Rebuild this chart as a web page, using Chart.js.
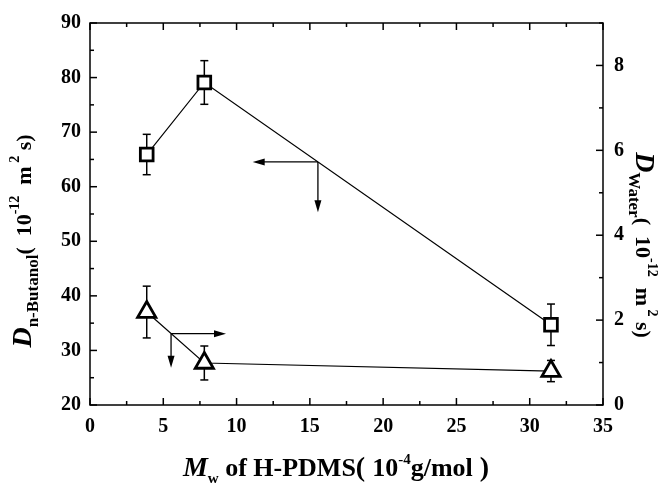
<!DOCTYPE html>
<html>
<head>
<meta charset="utf-8">
<script src="https://cdn.jsdelivr.net/npm/chart.js@4.4.1/dist/chart.umd.min.js"></script>
<style>
    html, body { margin: 0; padding: 0; background: #fff; }
    #wrap { width: 665px; height: 491px; position: relative; }
</style>
</head>
<body>
<div id="wrap"><canvas id="chart"></canvas></div>
<script>
// Datos
const mwValues = [3.87, 7.8, 31.45];
const butanolD = [65.9, 79.1, 34.7];
const butanolErr = [3.7, 4.0, 3.8];
const waterD = [2.19, 0.99, 0.80];
const waterErr = [0.61, 0.40, 0.25];

// Etiquetas de los ejes
const xTickLabels = [0, 5, 10, 15, 20, 25, 30, 35];
const leftTickLabels = [20, 30, 40, 50, 60, 70, 80, 90];
const rightTickLabels = [0, 2, 4, 6, 8];

// Flechas que indican a qué eje pertenece cada serie (unidades de datos)
const arrows = [
    { axis: 'y', x: 15.55, y: 64.55, hx: 11.1, vy: 55.3 },
    { axis: 'y2', x: 5.53, y: 1.68, hx: 9.28, vy: 0.88 }
];

const SERIF = "'Liberation Serif', 'Times New Roman', serif";
const tickFont = { family: SERIF, size: 20, weight: 'bold' };

function line(ctx, x1, y1, x2, y2) {
    ctx.beginPath();
    ctx.moveTo(x1, y1);
    ctx.lineTo(x2, y2);
    ctx.stroke();
}

function arrowHead(ctx, x, y, dx, dy) {
    // punta rellena apuntando en la dirección (dx, dy)
    const len = 12, half = 3.5;
    ctx.beginPath();
    ctx.moveTo(x, y);
    ctx.lineTo(x - dx * len - dy * half, y - dy * len + dx * half);
    ctx.lineTo(x - dx * len + dy * half, y - dy * len - dx * half);
    ctx.closePath();
    ctx.fill();
}

function drawRich(ctx, parts, x, y, angle) {
    ctx.save();
    ctx.translate(x, y);
    ctx.rotate(angle);
    let total = 0;
    parts.forEach(p => {
        ctx.font = p.font;
        p.w = ctx.measureText(p.text).width;
        total += p.w;
    });
    let cx = -total / 2;
    ctx.textAlign = 'left';
    ctx.textBaseline = 'alphabetic';
    ctx.fillStyle = '#000';
    parts.forEach(p => {
        ctx.font = p.font;
        ctx.fillText(p.text, cx, p.dy || 0);
        cx += p.w;
    });
    ctx.restore();
}

const errorBarPlugin = {
    id: 'errorBars',
    beforeDatasetsDraw(chart) {
        const ctx = chart.ctx;
        ctx.save();
        ctx.strokeStyle = '#000';
        ctx.lineWidth = 1.5;
        chart.data.datasets.forEach(ds => {
            const scale = chart.scales[ds.yAxisID];
            ds.data.forEach((p, i) => {
                const px = chart.scales.x.getPixelForValue(p.x);
                const top = scale.getPixelForValue(p.y + ds.errors[i]);
                const bot = scale.getPixelForValue(p.y - ds.errors[i]);
                line(ctx, px, top, px, bot);
                line(ctx, px - 4, top, px + 4, top);
                line(ctx, px - 4, bot, px + 4, bot);
            });
        });
        ctx.restore();
    }
};

const arrowPlugin = {
    id: 'arrows',
    afterDatasetsDraw(chart) {
        const ctx = chart.ctx;
        const xs = chart.scales.x;
        ctx.save();
        ctx.strokeStyle = '#000';
        ctx.fillStyle = '#000';
        ctx.lineWidth = 1.3;
        arrows.forEach(a => {
            const ys = chart.scales[a.axis];
            const x0 = xs.getPixelForValue(a.x), y0 = ys.getPixelForValue(a.y);
            const xh = xs.getPixelForValue(a.hx), yv = ys.getPixelForValue(a.vy);
            const dir = xh < x0 ? -1 : 1;
            line(ctx, x0, y0, xh - dir * 10, y0);
            arrowHead(ctx, xh, y0, dir, 0);
            line(ctx, x0, y0, x0, yv - 10);
            arrowHead(ctx, x0, yv, 0, 1);
        });
        ctx.restore();
    }
};

const framePlugin = {
    id: 'frame',
    afterDraw(chart) {
        const { ctx, chartArea: a, scales } = chart;
        ctx.save();
        ctx.strokeStyle = '#000';
        ctx.lineWidth = 1.5;
        ctx.strokeRect(a.left, a.top, a.right - a.left, a.bottom - a.top);
        scales.x.ticks.forEach(t => {
            const px = scales.x.getPixelForValue(t.value);
            const len = xTickLabels.includes(t.value) ? 7 : 4;
            line(ctx, px, a.bottom, px, a.bottom - len);
            line(ctx, px, a.top, px, a.top + len);
        });
        scales.y.ticks.forEach(t => {
            const py = scales.y.getPixelForValue(t.value);
            const len = leftTickLabels.includes(t.value) ? 7 : 4;
            line(ctx, a.left, py, a.left + len, py);
        });
        scales.y2.ticks.forEach(t => {
            const py = scales.y2.getPixelForValue(t.value);
            const len = rightTickLabels.includes(t.value) ? 7 : 4;
            line(ctx, a.right, py, a.right - len, py);
        });
        ctx.restore();

        // Títulos de los ejes con subíndices y superíndices
        const big = `italic bold 28px ${SERIF}`;
        const main = `bold 22px ${SERIF}`;
        const sub = `bold 17px ${SERIF}`;
        const sup = `bold 14px ${SERIF}`;
        const unit = [
            { text: '(  10', font: main },
            { text: '-12', font: sup, dy: -12 },
            { text: '  m', font: main },
            { text: ' 2', font: sup, dy: -12 },
            { text: ' s)', font: main }
        ];
        drawRich(ctx, [
            { text: 'D', font: big },
            { text: 'n-Butanol', font: sub, dy: 7 }
        ].concat(unit.map(p => Object.assign({}, p))), 31, 241, -Math.PI / 2);
        drawRich(ctx, [
            { text: 'D', font: big },
            { text: 'Water', font: sub, dy: 7 }
        ].concat(unit.map(p => Object.assign({}, p))), 636, 245, Math.PI / 2);
        const xt = `bold 26px ${SERIF}`;
        drawRich(ctx, [
            { text: 'M', font: `italic bold 28px ${SERIF}` },
            { text: 'w', font: `bold 15px ${SERIF}`, dy: 7 },
            { text: ' of H-PDMS', font: xt },
            { text: '( ', font: `bold 28px ${SERIF}` },
            { text: '10', font: xt },
            { text: '-4', font: `bold 15px ${SERIF}`, dy: -12 },
            { text: 'g/mol', font: xt },
            { text: ' )', font: `bold 28px ${SERIF}` }
        ], 336, 476, 0);
    }
};

function setupChart() {
    const ctx = document.getElementById('chart').getContext('2d');
    new Chart(ctx, {
        type: 'line',
        data: {
            datasets: [{
                label: 'n-Butanol',
                data: mwValues.map((x, i) => ({ x: x, y: butanolD[i] })),
                errors: butanolErr,
                yAxisID: 'y',
                borderColor: '#000',
                borderWidth: 1.2,
                pointStyle: 'rect',
                pointRadius: 9,
                pointBorderWidth: 2.8,
                pointBackgroundColor: '#fff',
                pointBorderColor: '#000',
                tension: 0
            }, {
                label: 'Water',
                data: mwValues.map((x, i) => ({ x: x, y: waterD[i] })),
                errors: waterErr,
                yAxisID: 'y2',
                borderColor: '#000',
                borderWidth: 1.2,
                pointStyle: 'triangle',
                pointRadius: 10.5,
                pointBorderWidth: 2.8,
                pointBackgroundColor: '#fff',
                pointBorderColor: '#000',
                tension: 0
            }]
        },
        options: {
            responsive: true,
            maintainAspectRatio: false,
            animation: false,
            layout: { padding: { top: 22, left: 0, right: 0, bottom: 0 } },
            plugins: {
                legend: { display: false },
                tooltip: { enabled: false }
            },
            scales: {
                x: {
                    type: 'linear',
                    min: 0,
                    max: 35,
                    grid: { display: false, drawTicks: false },
                    border: { display: false },
                    afterFit: s => { s.height = 86; },
                    ticks: {
                        stepSize: 2.5,
                        autoSkip: false,
                        maxRotation: 0,
                        padding: 10,
                        color: '#000',
                        font: tickFont,
                        callback: v => xTickLabels.includes(v) ? String(v) : ''
                    }
                },
                y: {
                    position: 'left',
                    min: 20,
                    max: 90,
                    grid: { display: false, drawTicks: false },
                    border: { display: false },
                    afterFit: s => { s.width = 90; },
                    ticks: {
                        stepSize: 5,
                        autoSkip: false,
                        padding: 9,
                        color: '#000',
                        font: tickFont,
                        callback: v => leftTickLabels.includes(v) ? String(v) : ''
                    }
                },
                y2: {
                    position: 'right',
                    min: 0,
                    max: 9,
                    grid: { display: false, drawTicks: false },
                    border: { display: false },
                    afterFit: s => { s.width = 62; },
                    ticks: {
                        stepSize: 1,
                        autoSkip: false,
                        padding: 11,
                        color: '#000',
                        font: tickFont,
                        callback: v => rightTickLabels.includes(v) ? String(v) : ''
                    }
                }
            }
        },
        plugins: [errorBarPlugin, arrowPlugin, framePlugin]
    });
}

document.addEventListener('DOMContentLoaded', setupChart);
</script>
</body>
</html>
